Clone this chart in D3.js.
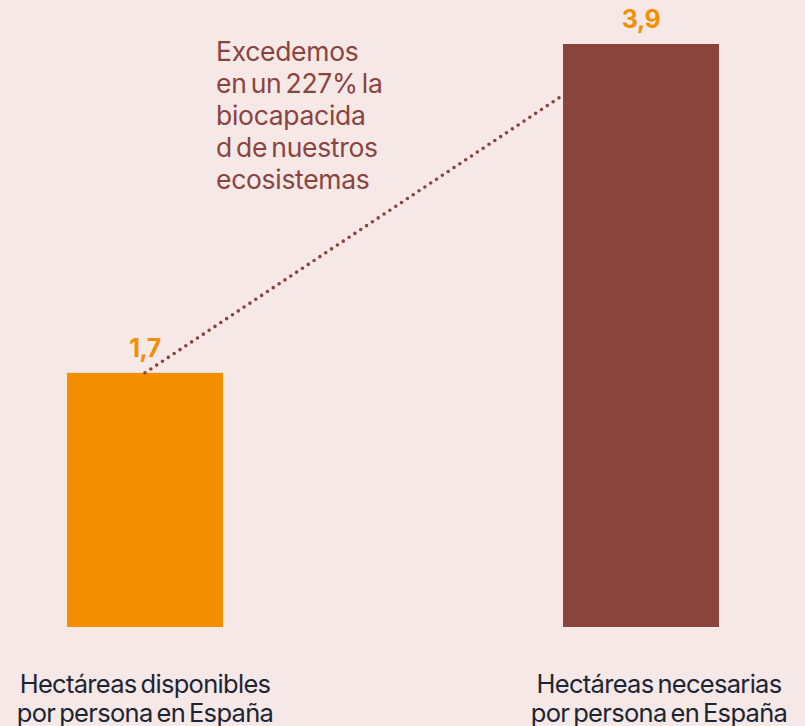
<!DOCTYPE html>
<html lang="es">
<head>
<meta charset="utf-8">
<title>Huella ecológica</title>
<script src="https://d3js.org/d3.v7.min.js"></script>
<style>
  html, body { margin: 0; padding: 0; background: #f6e8e7; }
  svg { display: block; font-family: Inter, "Open Sans", sans-serif; }
</style>
</head>
<body>
<script>
// data
var categories = ["disponibles", "necesarias"];
var values = [1.7, 3.9];
var valueLabels = ["1,7", "3,9"];
var categoryLabels = [
  ["Hectáreas disponibles", "por persona en España"],
  ["Hectáreas necesarias", "por persona en España"]
];
var annotation = ["Excedemos", "en un 227% la", "biocapacida", "d de nuestros", "ecosistemas"];

var w = 805, h = 726;
var barW = 156;
var colors = ["#f28f00", "#8b433e"];

var svg = d3.select("body").append("svg")
  .attr("width", w)
  .attr("height", h);

svg.append("rect").attr("width", w).attr("height", h).attr("fill", "#f6e8e7");

var x = d3.scalePoint().domain(categories).range([145, 641]);
var y = d3.scaleLinear().domain([0, 3.9]).range([627, 44]);

// bars
svg.selectAll("rect.bar")
  .data(values)
  .enter().append("rect")
  .attr("class", "bar")
  .attr("x", function(d, i) { return x(categories[i]) - barW / 2; })
  .attr("y", function(d) { return y(d); })
  .attr("width", barW)
  .attr("height", function(d) { return y(0) - y(d); })
  .attr("fill", function(d, i) { return colors[i]; });

// dotted connector from top of first bar to the side of the second bar
svg.append("line")
  .attr("x1", x(categories[0]))
  .attr("y1", y(values[0]))
  .attr("x2", x(categories[1]) - barW / 2 - 4)
  .attr("y2", y(3.54))
  .attr("stroke", "#8b433e")
  .attr("stroke-width", 3.6)
  .attr("stroke-linecap", "round")
  .attr("stroke-dasharray", "0 7");

// value labels
svg.selectAll("text.val")
  .data(values)
  .enter().append("text")
  .attr("class", "val")
  .attr("x", function(d, i) { return x(categories[i]); })
  .attr("y", function(d) { return y(d) - 16; })
  .attr("text-anchor", "middle")
  .attr("font-size", "25px")
  .attr("font-weight", 700)
  .attr("letter-spacing", "-0.5px")
  .attr("fill", "#f28f00")
  .text(function(d, i) { return valueLabels[i]; });

// annotation
var ann = svg.append("text")
  .attr("x", 216)
  .attr("y", 61)
  .attr("font-size", "26.5px")
  .attr("letter-spacing", "-0.3px")
  .attr("word-spacing", "-3px")
  .attr("fill", "#8b433e");
ann.selectAll("tspan")
  .data(annotation)
  .enter().append("tspan")
  .attr("x", 216)
  .attr("dy", function(d, i) { return i === 0 ? 0 : 32; })
  .text(function(d) { return d; });

// category labels
var labelShift = [0, 18];
categoryLabels.forEach(function(lines, i) {
  var t = svg.append("text")
    .attr("x", x(categories[i]) + labelShift[i])
    .attr("y", 693)
    .attr("text-anchor", "middle")
    .attr("font-size", "25.5px")
    .attr("letter-spacing", "-0.7px")
    .attr("word-spacing", "-2.5px")
    .attr("fill", "#1c2533");
  t.selectAll("tspan")
    .data(lines)
    .enter().append("tspan")
    .attr("x", x(categories[i]) + labelShift[i])
    .attr("dy", function(d, j) { return j === 0 ? 0 : 29; })
    .text(function(d) { return d; });
});
</script>
</body>
</html>
